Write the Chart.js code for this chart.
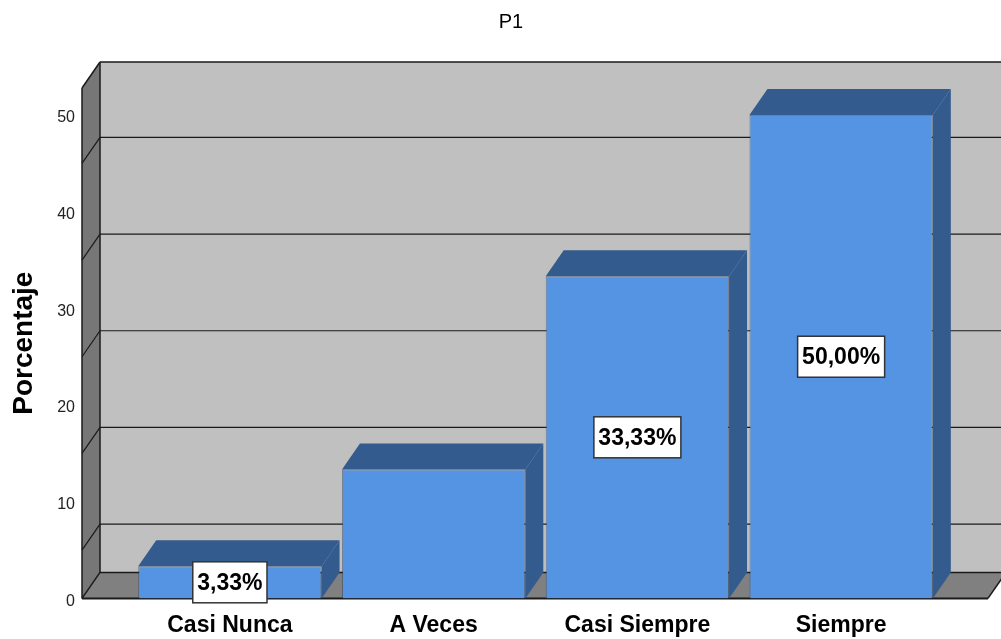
<!DOCTYPE html>
<html>
<head>
<meta charset="utf-8">
<script src="https://cdn.jsdelivr.net/npm/chart.js@4/dist/chart.umd.min.js"></script>
<style>
  html, body { margin: 0; padding: 0; background: #fff; overflow: hidden; }
  canvas { display: block; }
</style>
</head>
<body>
<canvas id="chart" width="1001" height="661"></canvas>
<script>
const categories = ['Casi Nunca', 'A Veces', 'Casi Siempre', 'Siempre']
const percentages = [3.33, 13.33, 33.33, 50.00]
const valueLabels = ['3,33%', null, '33,33%', '50,00%']
const yTicks = [0, 10, 20, 30, 40, 50]
const gridValues = [5, 15, 25, 35, 45]

const FONT = "'Liberation Sans', Arial, sans-serif"
const DX = 18, DY = 26   // depth of the fake 3D box

function poly(ctx, pts, fill) {
    ctx.beginPath()
    ctx.moveTo(pts[0][0], pts[0][1])
    pts.slice(1).forEach(p => ctx.lineTo(p[0], p[1]))
    ctx.closePath()
    ctx.fillStyle = fill
    ctx.fill()
}

function line(ctx, x1, y1, x2, y2, w) {
    ctx.beginPath()
    ctx.moveTo(x1, y1)
    ctx.lineTo(x2, y2)
    ctx.lineWidth = w || 1.5
    ctx.strokeStyle = '#1a1a1a'
    ctx.stroke()
}

const box3d = {
    id: 'box3d',
    beforeDatasetsDraw(chart) {
        const ctx = chart.ctx
        const a = chart.chartArea
        const y = chart.scales.y
        const fl = a.left - 46, fr = a.right + 45
        const top = a.top, bot = a.bottom
        ctx.save()
        // back wall
        poly(ctx, [[fl + DX, top - DY], [fr + DX + 20, top - DY], [fr + DX + 20, bot - DY], [fl + DX, bot - DY]], '#c0c0c0')
        // side wall
        poly(ctx, [[fl, top], [fl + DX, top - DY], [fl + DX, bot - DY], [fl, bot]], '#777777')
        // floor
        poly(ctx, [[fl, bot], [fr, bot], [fr + DX, bot - DY], [fl + DX, bot - DY]], '#808080')
        // grid lines on back wall and side wall
        gridValues.forEach(v => {
            const py = y.getPixelForValue(v)
            line(ctx, fl + DX, py - DY, fr + DX + 20, py - DY, 1.2)
            line(ctx, fl, py, fl + DX, py - DY, 1.2)
        })
        // box edges
        line(ctx, fl + DX, top - DY, fr + DX + 20, top - DY)
        line(ctx, fl, top, fl + DX, top - DY)
        line(ctx, fl, top, fl, bot)
        line(ctx, fl + DX, top - DY, fl + DX, bot - DY)
        line(ctx, fl + DX, bot - DY, fr + DX, bot - DY)
        line(ctx, fl, bot, fl + DX, bot - DY)
        line(ctx, fr, bot, fr + DX, bot - DY)
        line(ctx, fl, bot, fr, bot, 2)
        ctx.restore()
    },
    afterDatasetsDraw(chart) {
        const ctx = chart.ctx
        const meta = chart.getDatasetMeta(0)
        ctx.save()
        meta.data.forEach((bar, i) => {
            const x0 = bar.x - bar.width / 2, x1 = bar.x + bar.width / 2
            const yt = bar.y, yb = bar.base
            // top face
            poly(ctx, [[x0, yt], [x1, yt], [x1 + DX, yt - DY], [x0 + DX, yt - DY]], '#335b8e')
            // side face
            poly(ctx, [[x1, yt], [x1 + DX, yt - DY], [x1 + DX, yb - DY], [x1, yb]], '#335b8e')
        })
        // value labels
        ctx.font = 'bold 23px ' + FONT
        ctx.textAlign = 'center'
        ctx.textBaseline = 'middle'
        meta.data.forEach((bar, i) => {
            const txt = valueLabels[i]
            if (!txt) return
            const cy = (bar.y + bar.base) / 2
            const w = ctx.measureText(txt).width + 9
            const h = 41
            ctx.fillStyle = '#ffffff'
            ctx.fillRect(bar.x - w / 2, cy - h / 2, w, h)
            ctx.lineWidth = 1.5
            ctx.strokeStyle = '#333333'
            ctx.strokeRect(bar.x - w / 2, cy - h / 2, w, h)
            ctx.fillStyle = '#000000'
            ctx.fillText(txt, bar.x, cy + 1)
        })
        ctx.restore()
    },
    afterDraw(chart) {
        const ctx = chart.ctx
        ctx.save()
        ctx.font = '20px ' + FONT
        ctx.fillStyle = '#000000'
        ctx.textAlign = 'center'
        ctx.textBaseline = 'middle'
        ctx.fillText('P1', 511, 22)
        ctx.restore()
    }
}

const ctx = document.getElementById('chart').getContext('2d')
const chart = new Chart(ctx, {
    type: 'bar',
    data: {
        labels: categories,
        datasets: [{
            data: percentages,
            backgroundColor: '#5494e2',
            borderColor: 'rgba(40, 60, 90, 0.5)',
            borderWidth: 1,
            barPercentage: 0.9,
            categoryPercentage: 1.0
        }]
    },
    options: {
        responsive: false,
        animation: false,
        devicePixelRatio: 1,
        layout: { padding: { left: 0, right: 58, top: 88, bottom: 0 } },
        plugins: {
            legend: { display: false },
            tooltip: { enabled: false }
        },
        scales: {
            x: {
                grid: { display: false, drawTicks: false },
                border: { display: false },
                ticks: { color: '#000', font: { family: FONT, size: 23, weight: 'bold' }, padding: 13 },
                afterFit: s => { s.height = 41 }
            },
            y: {
                min: 0,
                max: 52.8,
                grid: { display: false, drawTicks: false },
                border: { display: false },
                ticks: { color: '#222', font: { family: FONT, size: 16 }, padding: 53, labelOffset: 3 },
                afterBuildTicks: s => { s.ticks = yTicks.map(v => ({ value: v })) },
                afterFit: s => { s.width = 128 },
                title: {
                    display: true,
                    text: 'Porcentaje',
                    color: '#000',
                    font: { family: FONT, size: 28, weight: 'bold' },
                    padding: { top: 7, bottom: 0 }
                }
            }
        }
    },
    plugins: [box3d]
})
</script>
</body>
</html>
